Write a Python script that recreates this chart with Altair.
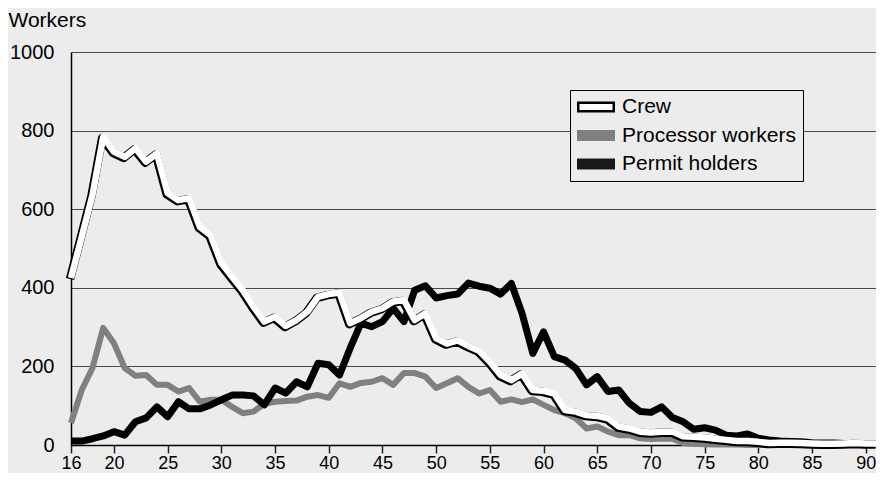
import altair as alt
import pandas as pd

ages = list(range(16, 92))

crew = [425, 530, 636, 784, 746, 733, 755, 721, 742, 641,
        623, 628, 555, 534, 463, 428, 394, 352, 314, 326,
        303, 318, 339, 377, 384, 388, 310, 323, 339, 348,
        365, 369, 318, 335, 272, 258, 266, 252, 240, 212,
        178, 165, 182, 140, 138, 131, 89, 85, 76, 74,
        68, 47, 42, 34, 32, 34, 34, 22, 21, 19,
        16, 13, 10, 10, 8, 5, 6, 6, 5, 4,
        3, 3, 4, 5, 4, 4]

processor = [56, 140, 196, 298, 259, 196, 176, 178, 153, 153,
             136, 145, 110, 115, 115, 97, 81, 85, 105, 110,
             112, 113, 123, 127, 120, 157, 148, 158, 161, 170,
             153, 183, 183, 174, 145, 157, 170, 148, 131, 140,
             110, 116, 109, 116, 102, 89, 81, 68, 42, 47,
             34, 25, 25, 17, 15, 16, 16, 5, 3, 2,
             1, 1, 1, 0, 0, 0, 0, 0, 0, 0,
             0, 0, 0, 0, 0, 0]

permit = [10, 10, 16, 23, 34, 25, 59, 69, 97, 72,
          110, 92, 92, 102, 115, 127, 127, 125, 102, 145,
          132, 161, 148, 208, 204, 178, 247, 310, 301, 314,
          348, 314, 394, 405, 374, 380, 384, 412, 404, 399,
          384, 411, 335, 233, 288, 225, 216, 195, 153, 174,
          136, 140, 106, 85, 83, 97, 70, 59, 40, 44,
          38, 25, 23, 28, 17, 13, 10, 9, 8, 6,
          5, 5, 4, 4, 4, 4]

series_names = ["Crew", "Processor workers", "Permit holders"]
x_ticks = [16, 20, 25, 30, 35, 40, 45, 50, 55, 60, 65, 70, 75, 80, 85, 90]
y_ticks = [0, 200, 400, 600, 800, 1000]

df = pd.DataFrame({
    "age": ages * 3,
    "series": [series_names[0]] * len(ages) + [series_names[1]] * len(ages) + [series_names[2]] * len(ages),
    "workers": crew + processor + permit,
})

BG = "#ececec"
FONT = "Liberation Sans"

x_enc = alt.X("age:Q",
              scale=alt.Scale(domain=[16, 91.7], nice=False, zero=False),
              axis=alt.Axis(values=x_ticks, title=None, grid=False,
                            labelFontSize=18, labelFont=FONT, labelColor="#000",
                            tickSize=8, tickColor="#222", tickWidth=1.5,
                            domainColor="#000", domainWidth=1.5,
                            labelPadding=1, labelFlush=False))
y_enc = alt.Y("workers:Q",
              scale=alt.Scale(domain=[0, 1000], nice=False),
              axis=alt.Axis(values=y_ticks, format="d", grid=True, gridColor="#4a4a4a", gridWidth=1,
                            ticks=False, labelPadding=17, labelFontSize=20,
                            labelFont=FONT, labelColor="#000",
                            domainColor="#000", domainWidth=1.5,
                            title="Workers", titleAngle=0, titleAlign="left",
                            titleBaseline="alphabetic", titleX=-63, titleY=-26,
                            titleFontSize=21, titleFontWeight="normal",
                            titleFont=FONT, titleColor="#000"))

base = alt.Chart(df).encode(x=x_enc, y=y_enc)

proc_layer = base.transform_filter(alt.datum.series == "Processor workers").mark_line(
    color="#808080", strokeWidth=6, strokeJoin="round")
perm_layer = base.transform_filter(alt.datum.series == "Permit holders").mark_line(
    color="#000000", strokeWidth=7, strokeJoin="round")
crew_shadow = base.transform_filter(alt.datum.series == "Crew").mark_line(
    color="#000000", strokeWidth=8.5, strokeJoin="round", xOffset=-1, yOffset=1)
crew_white = base.transform_filter(alt.datum.series == "Crew").mark_line(
    color="#ffffff", strokeWidth=6.5, strokeJoin="round")

legend_kw = dict(
    title=None, orient="none", legendX=499, legendY=38,
    padding=7, fillColor=BG, strokeColor="#000",
    symbolType="M-1,-0.24L1,-0.24L1,0.24L-1,0.24Z", symbolSize=1260,
    symbolStrokeWidth=2.5, symbolOpacity=1,
    labelFont=FONT, labelFontSize=21, labelColor="#000", labelOffset=7,
    labelLimit=400, rowPadding=7.5, clipHeight=20,
)

legend_layer = base.transform_filter("false").mark_point(filled=True).encode(
    fill=alt.Fill("series:N",
                  scale=alt.Scale(domain=series_names, range=["#ffffff", "#808080", "#1a1a1a"]),
                  legend=alt.Legend(**legend_kw)),
    stroke=alt.Stroke("series:N",
                      scale=alt.Scale(domain=series_names, range=["#000000", "#808080", "#1a1a1a"]),
                      legend=alt.Legend(**legend_kw)),
)

chart = alt.layer(proc_layer, perm_layer, crew_shadow, crew_white, legend_layer).properties(
    width=813, height=393,
    background=BG,
    padding={"left": 63, "top": 44, "right": -8, "bottom": 28},
    autosize=alt.AutoSizeParams(type="none"),
    usermeta={"embedOptions": {"defaultStyle": "html,body{background:#ececec}"}},
).configure_view(strokeWidth=0)

chart.save("out.html", embed_options={"renderer": "svg", "actions": False})
